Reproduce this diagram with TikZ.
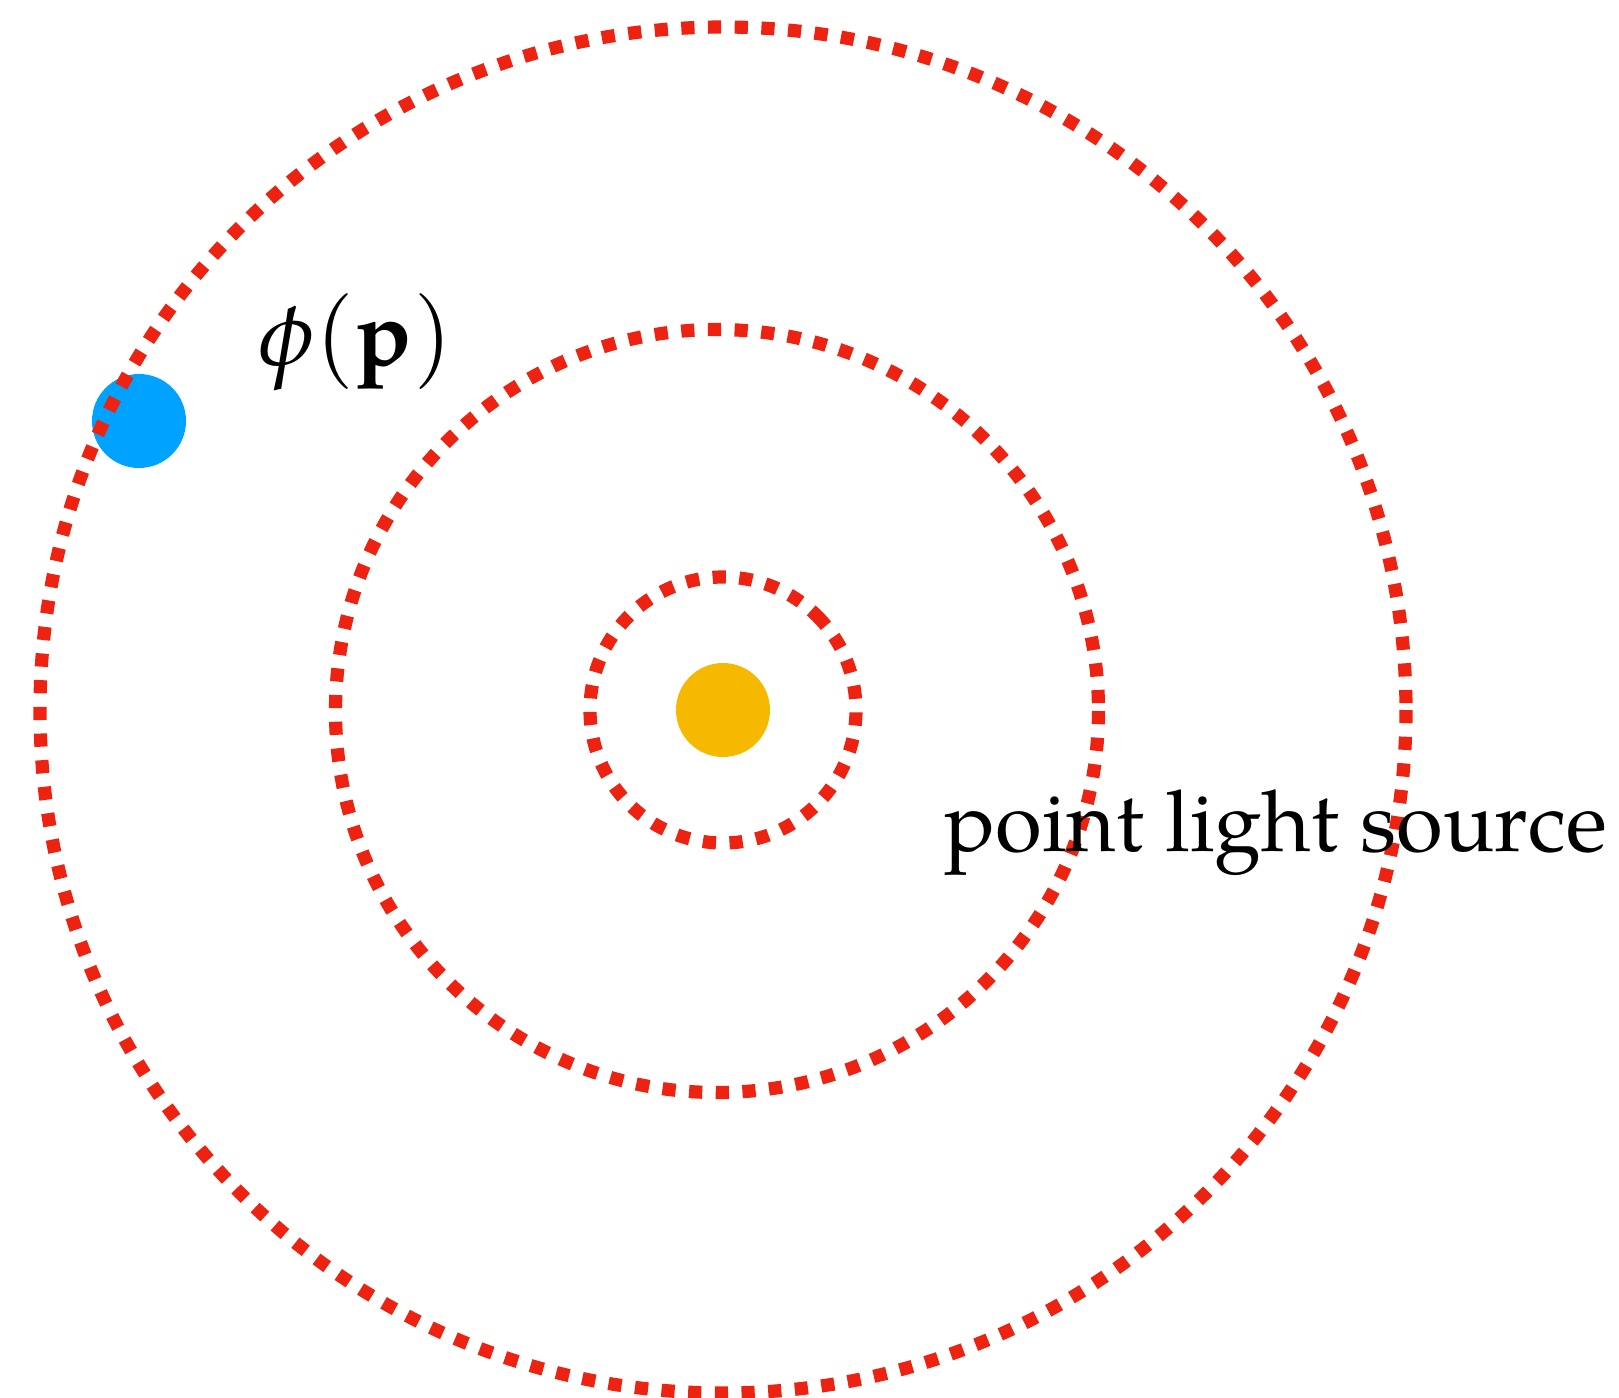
\documentclass[tikz,border=0pt]{standalone}
\usepackage{mathpazo}
\usepackage{fontspec}
\setmainfont{TeX Gyre Pagella}
\definecolor{ringred}{RGB}{237,34,16}
\definecolor{dotblue}{RGB}{0,162,255}
\definecolor{dotorange}{RGB}{247,185,0}
\begin{document}
\begin{tikzpicture}[x=0.5pt,y=-0.5pt,
  ring/.style={draw=ringred,line width=6.6pt,dash pattern=on 6.6pt off 6.75pt},
  dot/.style={circle,inner sep=0pt,minimum size=47pt},
  lbl/.style={inner sep=0pt,anchor=base west,font=\fontsize{42.6}{50}\selectfont},
  mlbl/.style={inner sep=0pt,anchor=base west,font=\fontsize{46}{54}\selectfont}]
\useasboundingbox (0,0) rectangle (1619,1398);
\coordinate (c) at (723,710);
\coordinate (cm) at (717,711);
\node[dot,fill=dotorange] (light) at (c) {};
\node[dot,fill=dotblue] (p) at (139,421) {};
\draw[ring] (c) circle[radius=683];
\draw[ring] (cm) circle[radius=381.5];
\draw[ring] ([shift={(-45:133)}]c) arc[start angle=-45,end angle=315,radius=133];
\node[mlbl] (phi) at (258,365) {$\phi(\mathbf{p})$};
\node[lbl] (src) at (944,851) {point light source};
\end{tikzpicture}
\end{document}
